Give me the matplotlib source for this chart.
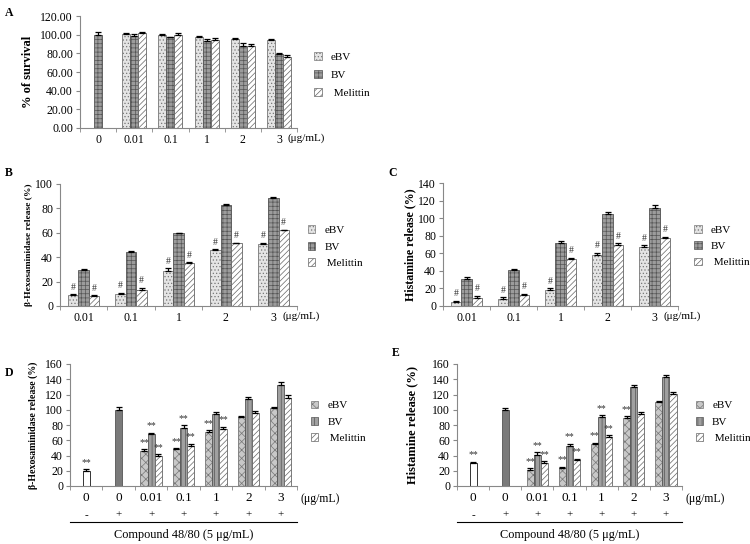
import numpy as np
import matplotlib
matplotlib.use("Agg")
import matplotlib.pyplot as plt
from matplotlib.patches import Patch

plt.rcParams['font.family'] = ['Liberation Serif', 'DejaVu Serif']
plt.rcParams['hatch.linewidth'] = 0.5

nan = np.nan

# panel A - cell survival
A_groups = ['0', '0.01', '0.1', '1', '2', '3']
A_ebv = [nan, 101, 100, 97, 95, 94]
A_ebv_err = [0, 1, 1, 2, 1, 1.5]
A_bv = [100, 99, 97, 93, 88, 79]
A_bv_err = [3, 2, 1, 2, 3, 1]
A_mel = [nan, 102, 100, 94, 88, 76]
A_mel_err = [0, 1, 1.5, 2, 2.5, 2]

# panel B - beta-hexosaminidase release
B_groups = ['0.01', '0.1', '1', '2', '3']
B_ebv = [9, 10, 29, 45.5, 51]
B_ebv_err = [0.5, 1, 2, 1, 1]
B_bv = [29.5, 44, 59.5, 83, 88.5]
B_bv_err = [0.7, 0.7, 0.7, 0.5, 0.7]
B_mel = [8.5, 13.5, 35, 51.5, 62]
B_mel_err = [0.5, 1.5, 0.7, 0.5, 0.7]

# panel C - histamine release
C_groups = ['0.01', '0.1', '1', '2', '3']
C_ebv = [4, 8, 18, 58, 67]
C_ebv_err = [2, 2, 2, 2.5, 2]
C_bv = [31, 41, 72, 105, 112]
C_bv_err = [2.5, 1.5, 1.5, 2, 2.5]
C_mel = [9.5, 12, 53, 69, 77]
C_mel_err = [2, 2, 2, 2.5, 2]

# panels D/E - with compound 48/80
DE_groups = ['0', '0', '0.01', '0.1', '1', '2', '3']
DE_signs = ['-', '+', '+', '+', '+', '+', '+']

D_ctrl = [20, 100]
D_ctrl_err = [2, 3]
D_ebv = [46, 48, 71, 90, 102]
D_ebv_err = [2, 1.5, 2, 2, 2]
D_bv = [68, 76, 94, 114, 133]
D_bv_err = [1.5, 3.5, 2.5, 2.5, 3]
D_mel = [39, 53, 75, 96, 116]
D_mel_err = [2.5, 2.5, 3, 2.5, 3]
D_marks = {'ctrl': ['**', ''], 'ebv': ['**', '**', '**', '', ''],
           'bv': ['**', '**', '', '', ''], 'mel': ['**', '**', '**', '', '']}

E_ctrl = [30, 100]
E_ctrl_err = [2, 2.5]
E_ebv = [21, 24, 55, 89, 110]
E_ebv_err = [2, 1.5, 2, 2.5, 2]
E_bv = [41, 53, 90, 130, 143]
E_bv_err = [3, 2.5, 3, 2, 2.5]
E_mel = [30, 34, 64, 94, 121]
E_mel_err = [2.5, 2, 2.5, 2.5, 2]
E_marks = {'ctrl': ['**', ''], 'ebv': ['**', '**', '**', '**', ''],
           'bv': ['**', '**', '**', '', ''], 'mel': ['**', '**', '**', '', '']}

W = 0.22
STYLE1 = {'ebv': dict(facecolor='#e4e4e4', hatch='.....', edgecolor='#777777'),
          'bv': dict(facecolor='#9c9c9c', hatch='++++', edgecolor='#555555'),
          'mel': dict(facecolor='white', hatch='//////', edgecolor='#666666')}
STYLE2 = {'ebv': dict(facecolor='#c8c8c8', hatch='xxxx', edgecolor='#777777'),
          'bv': dict(facecolor='#a0a0a0', hatch='||||', edgecolor='#555555'),
          'mel': dict(facecolor='white', hatch='//////', edgecolor='#666666')}
LABELS = {'ebv': 'eBV', 'bv': 'BV', 'mel': ' Melittin'}


def bars(ax, x, vals, errs, style):
    vals = np.array(vals, dtype=float)
    ax.bar(x, vals, W, linewidth=0.6, **style)
    ax.errorbar(x, vals, yerr=[np.zeros(len(vals)), errs], fmt='none',
                ecolor='black', elinewidth=0.9, capsize=2.4, capthick=0.9)


def marks(ax, x, vals, errs, sym, ymax):
    for xi, v, e, s in zip(x, vals, errs, sym):
        if s:
            ax.text(xi, v + e + ymax * 0.02, s, ha='center', va='bottom',
                    fontsize=7, color='#333333')


def setup(ax, labels, ymax, step, fmt=None):
    n = len(labels)
    ax.set_xlim(-0.5, n - 0.5)
    ax.set_ylim(0, ymax)
    ax.set_yticks(np.arange(0, ymax + 1, step))
    if fmt:
        ax.set_yticklabels([fmt % v for v in np.arange(0, ymax + 1, step)])
    ax.set_xticks(range(n))
    ax.set_xticklabels(labels)
    ax.set_xticks(np.arange(-0.5, n, 1), minor=True)
    ax.tick_params(axis='x', which='major', length=0, pad=4, labelsize=8.5)
    ax.tick_params(axis='x', which='minor', length=3, direction='out', color='#888888')
    ax.tick_params(axis='y', length=3, direction='out', color='#888888', labelsize=8.5, pad=2)
    for s in ['top', 'right']:
        ax.spines[s].set_visible(False)
    for s in ['left', 'bottom']:
        ax.spines[s].set_color('#888888')
        ax.spines[s].set_linewidth(0.8)


def unit(ax, x, dy, size=8):
    ax.annotate('(μg/mL)', xy=(x, 0), xycoords=('data', 'axes fraction'),
                xytext=(0, -dy), textcoords='offset points', ha='left', va='center',
                fontsize=size)


def legend(ax, style, anchor, spacing):
    hs = [Patch(label=LABELS[k], linewidth=0.5, **style[k]) for k in ['ebv', 'bv', 'mel']]
    ax.legend(handles=hs, loc='upper left', bbox_to_anchor=anchor, frameon=False,
              fontsize=8, handlelength=0.7, handleheight=0.7, handletextpad=0.8,
              labelspacing=spacing, borderpad=0, borderaxespad=0)


fig = plt.figure(figsize=(7.5, 5.44), dpi=100)
PW, PH = 750.0, 544.0


def axes_px(x0, x1, ytop, ybot):
    return fig.add_axes([x0 / PW, 1 - ybot / PH, (x1 - x0) / PW, (ybot - ytop) / PH])


# ---- A
ax = axes_px(80, 297, 16, 128)
x = np.arange(len(A_groups))
bars(ax, x - W, A_ebv, A_ebv_err, STYLE1['ebv'])
bars(ax, x, A_bv, A_bv_err, STYLE1['bv'])
bars(ax, x + W, A_mel, A_mel_err, STYLE1['mel'])
setup(ax, A_groups, 120, 20, '%.2f')
ax.set_ylabel('% of survival', fontsize=9, fontweight='bold')
ax.yaxis.set_label_coords(-0.21, 0.5)
unit(ax, 5.25, 7.5)
legend(ax, STYLE1, (1.08, 0.68), 0.75)
fig.text(5 / PW, 1 - 13 / PH, 'A', fontsize=8.5, fontweight='bold', va='center')

# ---- B and C
for lab, x0, x1, ly, groups, ebv, ebve, bv, bve, mel, mele, ymax, ylabel, ysz, ylx, lx, lgx in [
        ('B', 60, 297, 173, B_groups, B_ebv, B_ebv_err, B_bv, B_bv_err, B_mel, B_mel_err,
         100, 'β-Hexosaminidase release (%)', 6.8, -0.115, 5, 1.045),
        ('C', 443, 678, 173, C_groups, C_ebv, C_ebv_err, C_bv, C_bv_err, C_mel, C_mel_err,
         140, 'Histamine release (%)', 8.6, -0.115, 388, 1.07)]:
    ax = axes_px(x0, x1, 306 - (122 if ymax == 100 else 123), 306)
    x = np.arange(len(groups))
    bars(ax, x - W, ebv, ebve, STYLE1['ebv'])
    bars(ax, x, bv, bve, STYLE1['bv'])
    bars(ax, x + W, mel, mele, STYLE1['mel'])
    marks(ax, x - W, ebv, ebve, ['#'] * len(x), ymax)
    marks(ax, x + W, mel, mele, ['#'] * len(x), ymax)
    setup(ax, groups, ymax, 20)
    ax.set_ylabel(ylabel, fontsize=ysz, fontweight='bold')
    ax.yaxis.set_label_coords(ylx, 0.5)
    unit(ax, 4.2, 7.5)
    legend(ax, STYLE1, (lgx, 0.66), 0.6)
    fig.text(lx / PW, 1 - ly / PH, lab, fontsize=8.5, fontweight='bold', va='center')

# ---- D and E
for lab, x0, x1, ly, lx, ctrl, ctrle, ebv, ebve, bv, bve, mel, mele, mk, ylabel, ysz, lcx, lgx in [
        ('D', 70, 297, 373, 5, D_ctrl, D_ctrl_err, D_ebv, D_ebv_err, D_bv, D_bv_err,
         D_mel, D_mel_err, D_marks, 'β-Hexosaminidase release (%)', 7.1, -0.14, 1.06),
        ('E', 457, 682, 353, 392, E_ctrl, E_ctrl_err, E_ebv, E_ebv_err, E_bv, E_bv_err,
         E_mel, E_mel_err, E_marks, 'Histamine release (%)', 9, -0.17, 1.06)]:
    ax = axes_px(x0, x1, 364, 486)
    xc = np.arange(2)
    ax.bar(xc[0], ctrl[0], W, facecolor='white', edgecolor='#333333', linewidth=0.7)
    ax.bar(xc[1], ctrl[1], W, facecolor='#7a7a7a', edgecolor='#555555', linewidth=0.6)
    ax.errorbar(xc, ctrl, yerr=[np.zeros(2), ctrle], fmt='none', ecolor='black',
                elinewidth=0.9, capsize=2.4, capthick=0.9)
    marks(ax, xc, ctrl, ctrle, mk['ctrl'], 160)
    x = np.arange(2, len(DE_groups))
    bars(ax, x - W, ebv, ebve, STYLE2['ebv'])
    bars(ax, x, bv, bve, STYLE2['bv'])
    bars(ax, x + W, mel, mele, STYLE2['mel'])
    marks(ax, x - W, ebv, ebve, mk['ebv'], 160)
    marks(ax, x, bv, bve, mk['bv'], 160)
    marks(ax, x + W, mel, mele, mk['mel'], 160)
    setup(ax, DE_groups, 160, 20)
    ax.tick_params(axis='x', which='major', pad=4, labelsize=9.5)
    ax.set_ylabel(ylabel, fontsize=ysz, fontweight='bold')
    ax.yaxis.set_label_coords(lcx, 0.5)
    unit(ax, 6.6, 9.5, 8.5)
    for i, s in enumerate(DE_signs):
        ax.annotate(s, xy=(i, 0), xycoords=('data', 'axes fraction'), xytext=(0, -21),
                    textcoords='offset points', ha='center', va='center', fontsize=8)
    ax.plot([0, 1], [-0.295, -0.295], transform=ax.transAxes, color='black',
            linewidth=0.8, clip_on=False)
    ax.text(0.5, -0.40, 'Compound 48/80 (5 μg/mL)', transform=ax.transAxes,
            ha='center', va='center', fontsize=8.8)
    legend(ax, STYLE2, (lgx, 0.7), 0.6)
    fig.text(lx / PW, 1 - ly / PH, lab, fontsize=8.5, fontweight='bold', va='center')

fig.savefig('out.png', dpi=100)
